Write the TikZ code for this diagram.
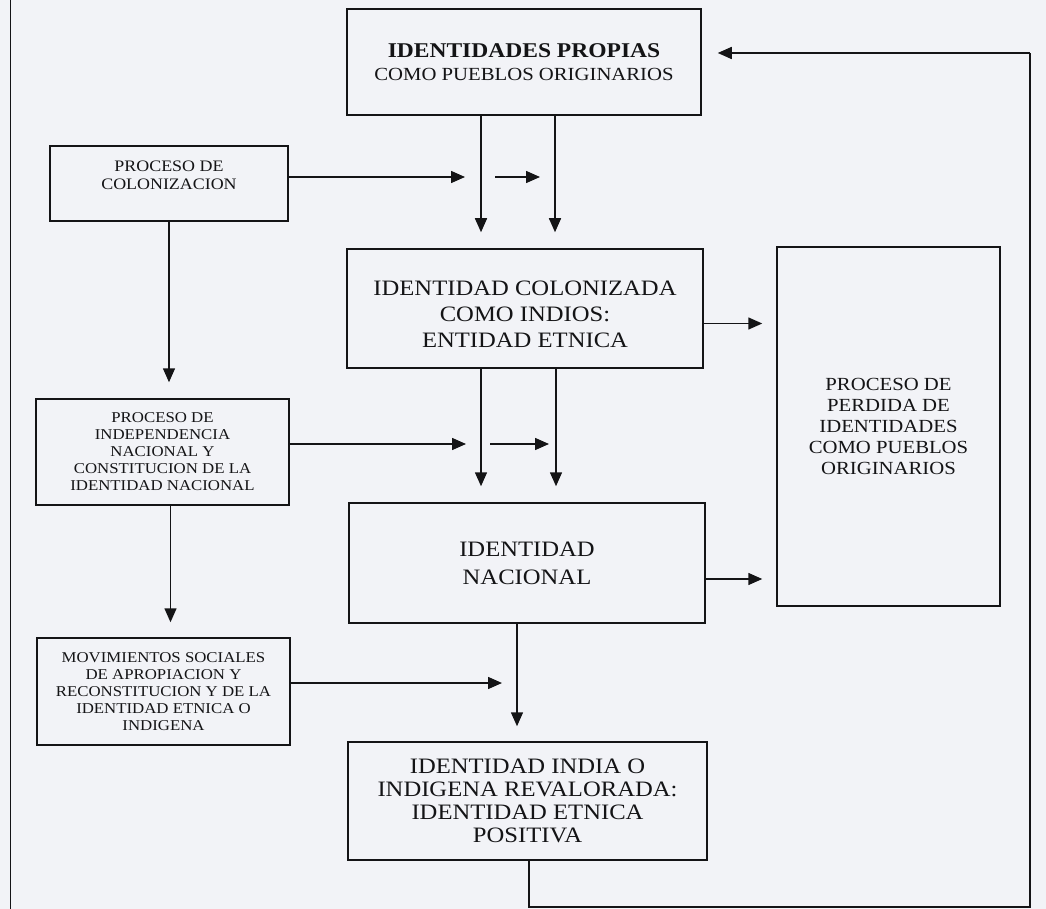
\documentclass[tikz,border=0pt]{standalone}
\usepackage{fontspec}
\setmainfont{Liberation Serif}[FakeStretch=1.12]
\usepackage{tikz}
\usetikzlibrary{arrows.meta, calc}

\definecolor{paper}{RGB}{242,243,247}
\definecolor{ink}{RGB}{20,20,22}

\begin{document}
\begin{tikzpicture}[
    x=1pt, y=-1pt,
    box/.style={draw=ink, line width=1.5pt, align=center, text=ink, inner sep=0pt},
    bigfont/.style={font=\fontsize{22}{26}\selectfont},
    smallfont/.style={font=\fontsize{15}{17}\selectfont},
    arr/.style={-{Triangle[length=14pt,width=12pt]}, line width=1.5pt, draw=ink},
    wire/.style={line width=1.5pt, draw=ink},
]

% page and left border of the scan
\fill[paper] (0,0) rectangle (1046,909);
\useasboundingbox (0,0) rectangle (1046,909);
\draw[ink, line width=1pt] (10,0) -- (10,909);

% ===== central column =====
\node[box, font=\fontsize{18.5}{23}\selectfont, minimum width=354pt, minimum height=106pt] (propias) at (524,62)
    {{\fontsize{21}{23}\selectfont\bfseries IDENTIDADES PROPIAS}\\
     COMO PUEBLOS ORIGINARIOS};
\node[box, bigfont, minimum width=356pt, minimum height=119pt] (colonizada) at (525,308.5)
    {\rule{0pt}{26pt}IDENTIDAD COLONIZADA\\COMO INDIOS:\\ENTIDAD ETNICA};
\node[box, font=\fontsize{22}{28}\selectfont, minimum width=356pt, minimum height=120pt] (nacional) at (527,563)
    {IDENTIDAD\\NACIONAL};
\node[box, font=\fontsize{22}{23}\selectfont, minimum width=359pt, minimum height=118pt] (india) at (527.5,801)
    {IDENTIDAD INDIA O\\INDIGENA REVALORADA:\\IDENTIDAD ETNICA\\POSITIVA};

% ===== left column: processes =====
\node[box, font=\fontsize{16}{18}\selectfont, text depth=16pt, minimum width=238pt, minimum height=75pt] (coloniz) at (169,183.5)
    {PROCESO DE\\COLONIZACION};
\node[box, smallfont, minimum width=253pt, minimum height=106pt] (independ) at (162.5,452)
    {PROCESO DE\\INDEPENDENCIA\\NACIONAL Y\\CONSTITUCION DE LA\\IDENTIDAD NACIONAL};
\node[box, smallfont, minimum width=253pt, minimum height=107pt] (movim) at (163.5,691.5)
    {MOVIMIENTOS SOCIALES\\DE APROPIACION Y\\RECONSTITUCION Y DE LA\\IDENTIDAD ETNICA O\\INDIGENA};

% ===== right: loss of identities =====
\node[box, font=\fontsize{18.5}{21}\selectfont, minimum width=223pt, minimum height=359pt] (perdida) at (888.5,426.5)
    {PROCESO DE\\PERDIDA DE\\IDENTIDADES\\COMO PUEBLOS\\ORIGINARIOS};

% free ends of the side arrows
\coordinate (colA) at (465,177);
\coordinate (colB1) at (495,177);
\coordinate (colB2) at (540,177);
\coordinate (indA) at (466,444);
\coordinate (indB1) at (490,444);
\coordinate (indB2) at (549,444);
\coordinate (movA) at (502,683);

% double descent between central boxes
\draw[arr, shorten >=16pt] ([xshift=-43pt]propias.south) -- ([xshift=-43pt]propias.south |- colonizada.north);
\draw[arr, shorten >=16pt] ([xshift=31pt]propias.south) -- ([xshift=31pt]propias.south |- colonizada.north);
\draw[arr, shorten >=16pt] ([xshift=-44pt]colonizada.south) -- ([xshift=-44pt]colonizada.south |- nacional.north);
\draw[arr, shorten >=16pt] ([xshift=31pt]colonizada.south) -- ([xshift=31pt]colonizada.south |- nacional.north);
\draw[arr, shorten >=15pt] ([xshift=-10pt]nacional.south) -- ([xshift=-10pt]nacional.south |- india.north);

% left column downwards
\draw[arr, shorten >=16pt] (coloniz.south) -- (coloniz.south |- independ.north);
\draw[arr, shorten >=15pt] ([xshift=8pt]independ.south) -- ([xshift=8pt]independ.south |- movim.north);

% processes acting on the identities
\draw[arr] (coloniz.east |- colA) -- (colA);
\draw[arr] (colB1) -- (colB2);
\draw[arr] (independ.east |- indA) -- (indA);
\draw[arr] (indB1) -- (indB2);
\draw[arr] (movim.east |- movA) -- (movA);

% towards loss of identities
\draw[arr, shorten >=14pt] ([yshift=-15pt]colonizada.east) -- ([yshift=-15pt]colonizada.east -| perdida.west);
\draw[arr, shorten >=14pt] ([yshift=-16pt]nacional.east) -- ([yshift=-16pt]nacional.east -| perdida.west);

% feedback loop back to the original identities
\draw[wire] ([xshift=1.5pt]india.south) -- ++(0,46) -| (1030,53);
\draw[arr, shorten >=16pt] (1030,53) -- (1030,53 -| propias.east);

\end{tikzpicture}
\end{document}
